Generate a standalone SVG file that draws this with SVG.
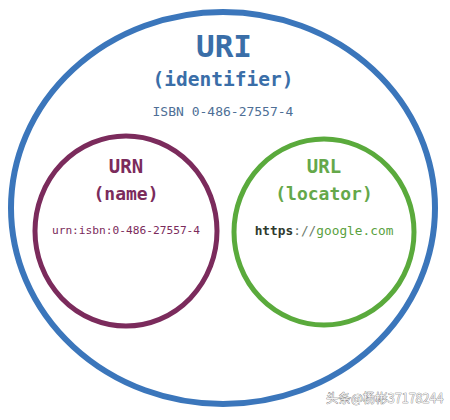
<svg xmlns="http://www.w3.org/2000/svg" width="450" height="420" viewBox="0 0 450 420">
<style>
.mono{font-family:"DejaVu Sans Mono","Liberation Mono",monospace;text-anchor:middle}
.ring{fill:none}
</style>
<rect width="450" height="420" fill="#ffffff"/>
<g id="uri">
<ellipse class="ring" cx="223" cy="208" rx="212" ry="196" stroke="#3b76bb" stroke-width="6"/>
<text class="mono" x="224" y="57" font-size="31" font-weight="bold" fill="#3a6ea8">URI</text>
<text class="mono" x="223" y="86" font-size="19.5" font-weight="bold" fill="#3a6ea8">(identifier)</text>
<text class="mono" x="223" y="116" font-size="13" fill="#4e6f96">ISBN 0-486-27557-4</text>
</g>
<g id="urn">
<ellipse class="ring" cx="126" cy="231" rx="91" ry="95" stroke="#7b2b5c" stroke-width="5"/>
<text class="mono" x="126" y="173" font-size="19" font-weight="bold" fill="#7b2b5c">URN</text>
<text class="mono" x="126" y="200" font-size="18" font-weight="bold" fill="#7b2b5c">(name)</text>
<text class="mono" x="126" y="234" font-size="11.2" fill="#7b2b5c">urn:isbn:0-486-27557-4</text>
</g>
<g id="url">
<ellipse class="ring" cx="324" cy="232" rx="90" ry="93" stroke="#5aaa3c" stroke-width="5"/>
<text class="mono" x="324" y="173" font-size="19" font-weight="bold" fill="#65a84a">URL</text>
<text class="mono" x="324" y="200" font-size="18" font-weight="bold" fill="#65a84a">(locator)</text>
<text class="mono" x="324" y="235" font-size="12.8"><tspan font-weight="bold" fill="#2e3a2e">https</tspan><tspan fill="#6b7a6b">://</tspan><tspan fill="#5aa13e">google.com</tspan></text>
</g>
<g id="connectors"></g>
<text x="326" y="403" font-family="'Noto Sans CJK SC','Noto Sans',sans-serif" font-size="12.5" fill="#f2f2f2" stroke="#666" stroke-width="0.6" paint-order="stroke">头条@杨彬37178244</text>
</svg>
